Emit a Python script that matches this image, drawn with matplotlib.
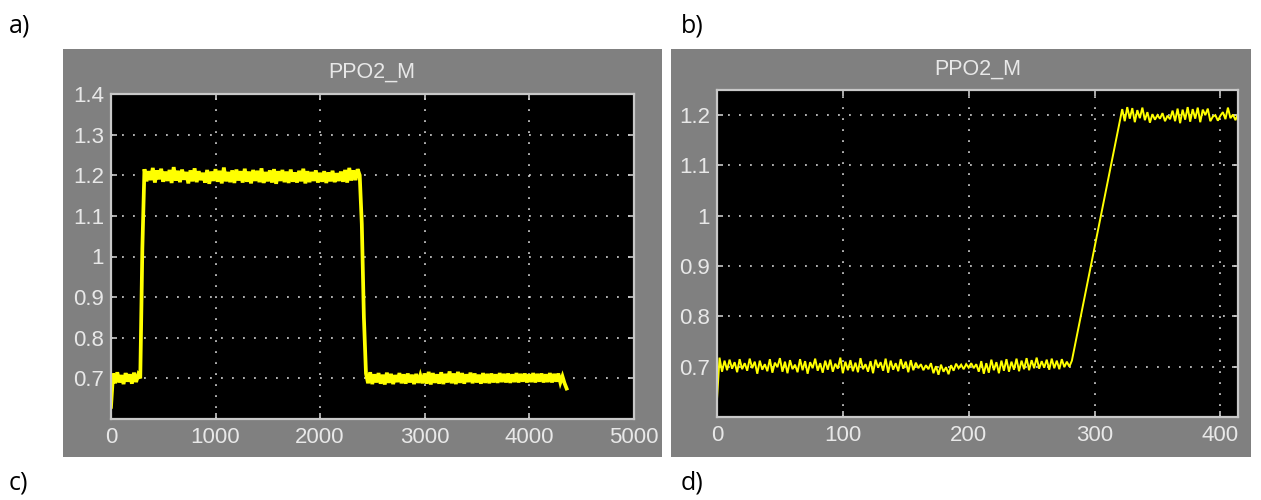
import numpy as np
import matplotlib
matplotlib.use("Agg")
import matplotlib.pyplot as plt
from matplotlib.patches import Rectangle


# ---- data ----

# panel a): one sample every 20 s, from 0 to 4360
time_a = np.arange(0, 4361, 20)

ppo2_a_start = [0.63, 0.712, 0.688, 0.715, 0.69, 0.708, 0.686, 0.713, 0.692, 0.71,
                0.687, 0.714, 0.691, 0.709]
ppo2_a_up = [0.70, 1.02]
ppo2_a_high = [1.215, 1.185, 1.21, 1.188, 1.218, 1.182, 1.212, 1.19, 1.216, 1.184,
               1.209, 1.186, 1.213, 1.181, 1.22, 1.187, 1.211, 1.183, 1.214, 1.189,
               1.208, 1.18, 1.212, 1.185, 1.217, 1.183, 1.21, 1.188, 1.206, 1.182,
               1.213, 1.179, 1.209, 1.186, 1.215, 1.184, 1.211, 1.18, 1.219, 1.185,
               1.208, 1.183, 1.212, 1.181, 1.214, 1.187, 1.21, 1.182, 1.216, 1.184,
               1.209, 1.18, 1.213, 1.186, 1.211, 1.183, 1.217, 1.181, 1.208, 1.185,
               1.212, 1.182, 1.215, 1.179, 1.21, 1.186, 1.213, 1.183, 1.209, 1.181,
               1.214, 1.184, 1.207, 1.182, 1.211, 1.185, 1.216, 1.18, 1.21, 1.183,
               1.208, 1.186, 1.212, 1.182, 1.206, 1.184, 1.21, 1.181, 1.207, 1.185,
               1.211, 1.183, 1.205, 1.186, 1.209, 1.184, 1.213, 1.182, 1.218, 1.187,
               1.212, 1.188, 1.215]
ppo2_a_down = [1.20, 1.08, 0.85]
ppo2_a_low = [0.712, 0.688, 0.715, 0.686, 0.71, 0.69, 0.713, 0.687, 0.709, 0.685,
              0.714, 0.689, 0.711, 0.686, 0.708, 0.691, 0.713, 0.688, 0.71, 0.687,
              0.712, 0.69, 0.709, 0.686, 0.711, 0.689, 0.707, 0.688, 0.712, 0.687,
              0.716, 0.685, 0.713, 0.689, 0.71, 0.687, 0.715, 0.686, 0.711, 0.69,
              0.717, 0.688, 0.712, 0.686, 0.716, 0.689, 0.713, 0.687, 0.71, 0.691,
              0.714, 0.688, 0.712, 0.69, 0.709, 0.687, 0.713, 0.689, 0.711, 0.688,
              0.712, 0.69, 0.71, 0.689, 0.713, 0.691, 0.711, 0.69, 0.712, 0.689,
              0.71, 0.691, 0.713, 0.69, 0.711, 0.692, 0.712, 0.69, 0.71, 0.691,
              0.713, 0.69, 0.711, 0.692, 0.712, 0.69, 0.71, 0.691, 0.713, 0.69,
              0.711, 0.692, 0.712, 0.69, 0.705, 0.688]
ppo2_a_end = [0.675]

# panel b): first 414 s, one sample every 2 s
time_b = np.arange(0, 415, 2)

ppo2_b_start = [0.635]
ppo2_b_low = [0.718, 0.69, 0.712, 0.693, 0.714, 0.696, 0.709, 0.689, 0.715, 0.695,
              0.707, 0.692, 0.716, 0.697, 0.71, 0.686, 0.712, 0.694, 0.705, 0.691,
              0.715, 0.688, 0.708, 0.699, 0.717, 0.69, 0.71, 0.687, 0.713, 0.695,
              0.704, 0.689, 0.715, 0.693, 0.711, 0.686, 0.709, 0.697, 0.716, 0.692,
              0.707, 0.688, 0.712, 0.694, 0.714, 0.69, 0.706, 0.696, 0.718, 0.687,
              0.71, 0.693, 0.713, 0.691, 0.708, 0.689, 0.717, 0.695, 0.705, 0.69,
              0.711, 0.687, 0.714, 0.698, 0.709, 0.692, 0.716, 0.688, 0.712, 0.694,
              0.707, 0.691, 0.715, 0.696, 0.71, 0.689, 0.713, 0.693, 0.708, 0.697,
              0.705, 0.693, 0.703, 0.695, 0.707, 0.687, 0.701, 0.684, 0.704, 0.69,
              0.699, 0.685, 0.703, 0.692, 0.706, 0.697, 0.704, 0.695, 0.705, 0.698,
              0.707, 0.697, 0.705, 0.69, 0.711, 0.686, 0.707, 0.688, 0.714, 0.693,
              0.709, 0.687, 0.712, 0.692, 0.715, 0.69, 0.71, 0.694, 0.716, 0.691,
              0.712, 0.695, 0.717, 0.693, 0.713, 0.697, 0.718, 0.696, 0.711, 0.698,
              0.714, 0.694, 0.716, 0.697, 0.712, 0.695, 0.715, 0.699, 0.71, 0.7]
ppo2_b_ramp = [0.712, 0.737, 0.762, 0.787, 0.812, 0.837, 0.862, 0.887, 0.912, 0.937,
               0.962, 0.987, 1.012, 1.037, 1.062, 1.087, 1.112, 1.137, 1.162, 1.187]
ppo2_b_high = [1.212, 1.188, 1.216, 1.193, 1.214, 1.186, 1.21, 1.194, 1.215, 1.19,
               1.206, 1.185, 1.202, 1.191, 1.2, 1.193, 1.204, 1.188, 1.199, 1.192,
               1.209, 1.188, 1.213, 1.184, 1.211, 1.191, 1.216, 1.187, 1.212, 1.193,
               1.215, 1.186, 1.211, 1.2, 1.213, 1.188, 1.197, 1.2, 1.189, 1.199,
               1.206, 1.192, 1.215, 1.194, 1.201, 1.19, 1.203]

ticks_a_x = [0, 1000, 2000, 3000, 4000, 5000]
ticks_a_y = [0.7, 0.8, 0.9, 1.0, 1.1, 1.2, 1.3, 1.4]
ticks_b_x = [0, 100, 200, 300, 400]
ticks_b_y = [0.7, 0.8, 0.9, 1.0, 1.1, 1.2]

title = "PPO2_M"
panel_labels = ["a)", "b)", "c)", "d)"]

ppo2_a = ppo2_a_start + ppo2_a_up + ppo2_a_high + ppo2_a_down + ppo2_a_low + ppo2_a_end
ppo2_b = ppo2_b_start + ppo2_b_low + ppo2_b_ramp + ppo2_b_high


W, H = 1261, 500
GRAY = "#808080"
FRAME = "#c8c8c8"
TEXT = "#e8e8e8"
TICK_FONT = ["Liberation Sans", "DejaVu Sans"]


def px_box(x0, y0, x1, y1):
	"""
	Convert a pixel box (top-left origin) to figure fractions [left, bottom, width, height].
	"""

	return [x0 / W, (H - y1) / H, (x1 - x0) / W, (y1 - y0) / H]


def label_fmt(v):
	"""
	MATLAB style tick labels: 1 instead of 1.0, no trailing zeros.
	"""

	return ("%g" % v)


def scope_axes(fig, box, t, y, xlim, ylim, xticks, yticks, lw, title_pad):
	"""
	Draw one Simulink scope style panel: black plot area, dotted white grid, yellow trace.

	Parameters:
	fig:		the figure
	box:		pixel box of the plot area
	t, y:		trace data
	xlim, ylim:	axis limits
	xticks, yticks:	tick positions
	lw:		trace line width
	title_pad:	gap between plot area and title, points
	"""

	ax = fig.add_axes(px_box(*box))
	ax.set_facecolor("black")
	ax.plot(t, y, color="#ffff00", lw=lw, solid_joinstyle="miter")

	ax.set_xlim(*xlim)
	ax.set_ylim(*ylim)
	ax.set_xticks(xticks)
	ax.set_yticks(yticks)
	ax.set_xticklabels([label_fmt(v) for v in xticks])
	ax.set_yticklabels([label_fmt(v) for v in yticks])

	ax.grid(True, color="#e0e0e0", lw=1.1, ls=(0, (1.2, 6)))
	ax.tick_params(direction="in", length=4, width=1.2, color=FRAME,
				   top=True, right=True, labelcolor=TEXT, labelsize=16)
	ax.tick_params(axis="x", pad=6)
	ax.tick_params(axis="y", pad=5)
	for lab in ax.get_xticklabels() + ax.get_yticklabels():
		lab.set_family(TICK_FONT)

	for s in ax.spines.values():
		s.set_color(FRAME)
		s.set_linewidth(1.6)

	ax.set_title(title, color=TEXT, fontsize=15.5, family=TICK_FONT, pad=title_pad)
	return ax


fig = plt.figure(figsize=(W / 100, H / 100), dpi=100)
fig.patch.set_facecolor("white")

# grey scope backgrounds, kept behind the axes
for x0, x1 in [(63, 662), (671, 1251)]:
	b = px_box(x0, 49, x1, 457)
	fig.patches.append(Rectangle((b[0], b[1]), b[2], b[3], transform=fig.transFigure,
								 facecolor=GRAY, edgecolor="none", zorder=-10))

scope_axes(fig, (111, 94, 633.5, 419), time_a, ppo2_a, (0, 5000), (0.6, 1.4),
		   ticks_a_x, ticks_a_y, 2.7, 12)
scope_axes(fig, (717, 90, 1238, 417), time_b, ppo2_b, (0, 414), (0.6, 1.25),
		   ticks_b_x, ticks_b_y, 1.4, 11)

# panel letters
for lab, (x, y) in zip(panel_labels, [(9, 26), (681, 26), (9, 483), (681, 483)]):
	fig.text(x / W, 1 - y / H, lab, fontsize=18, family=["Open Sans", "DejaVu Sans"],
			 ha="left", va="center", color="black")

fig.savefig("out.png", dpi=100, facecolor="white")
